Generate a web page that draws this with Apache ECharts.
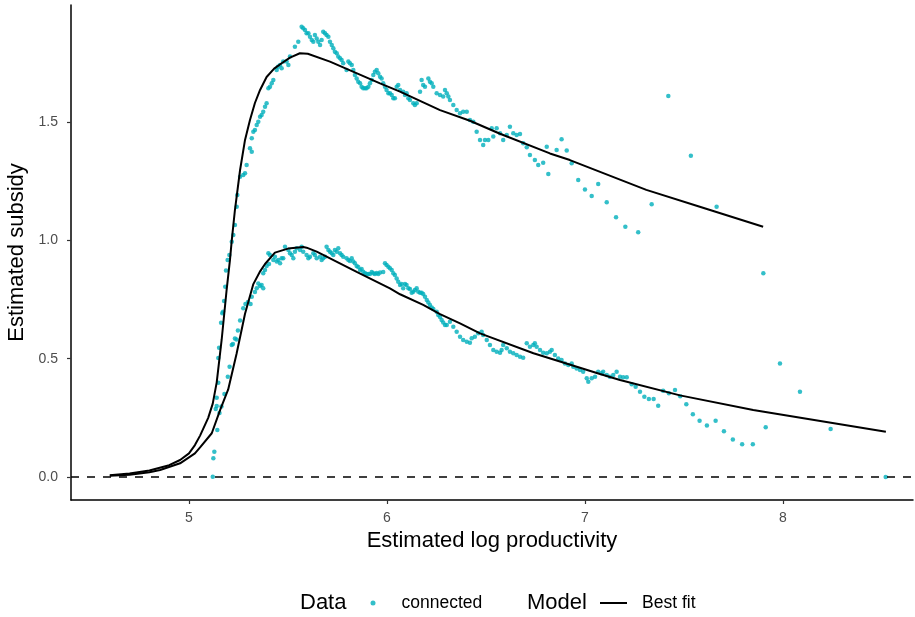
<!DOCTYPE html>
<html><head><meta charset="utf-8">
<script src="https://cdn.jsdelivr.net/npm/echarts@6/dist/echarts.min.js"></script>
<style>html,body{margin:0;padding:0;background:#fff}#c{width:915px;height:617px}</style>
</head><body><div id="c"></div>
<script>
const xTicks = [5, 6, 7, 8];
const yTicks = [0, 0.5, 1, 1.5];
const seriesNames = ['connected', 'Best fit'];

const connectedHigh = [[5.135,0.287],[5.140,0.300],[5.140,0.335],[5.148,0.398],[5.148,0.503],[5.152,0.546],[5.162,0.652],[5.168,0.692],[5.172,0.698],[5.177,0.744],[5.183,0.804],[5.187,0.872],[5.195,0.917],[5.204,0.938],[5.216,0.994],[5.224,1.022],[5.232,1.065],[5.241,1.142],[5.244,1.191],[5.258,1.269],[5.274,1.276],[5.283,1.283],[5.291,1.318],[5.308,1.389],[5.317,1.374],[5.317,1.431],[5.325,1.459],[5.333,1.466],[5.342,1.487],[5.350,1.501],[5.359,1.522],[5.367,1.529],[5.375,1.543],[5.384,1.564],[5.392,1.579],[5.401,1.642],[5.409,1.649],[5.418,1.663],[5.426,1.677],[5.443,1.719],[5.449,1.733],[5.460,1.741],[5.468,1.727],[5.476,1.755],[5.493,1.755],[5.502,1.741],[5.510,1.776],[5.535,1.818],[5.552,1.839],[5.569,1.902],[5.577,1.896],[5.586,1.888],[5.594,1.875],[5.603,1.875],[5.611,1.860],[5.620,1.846],[5.628,1.839],[5.636,1.867],[5.645,1.853],[5.653,1.839],[5.662,1.825],[5.670,1.846],[5.678,1.881],[5.687,1.875],[5.695,1.867],[5.704,1.860],[5.712,1.839],[5.721,1.825],[5.729,1.811],[5.737,1.797],[5.746,1.790],[5.754,1.776],[5.763,1.769],[5.771,1.762],[5.779,1.748],[5.796,1.719],[5.805,1.755],[5.813,1.748],[5.822,1.741],[5.830,1.719],[5.838,1.698],[5.847,1.684],[5.855,1.670],[5.864,1.663],[5.872,1.649],[5.880,1.642],[5.889,1.642],[5.897,1.642],[5.906,1.649],[5.914,1.663],[5.923,1.677],[5.931,1.698],[5.939,1.712],[5.948,1.719],[5.956,1.706],[5.965,1.691],[5.973,1.684],[5.981,1.663],[5.990,1.649],[5.998,1.635],[6.007,1.621],[6.015,1.621],[6.024,1.614],[6.032,1.600],[6.040,1.600],[6.049,1.649],[6.057,1.656],[6.066,1.635],[6.082,1.628],[6.091,1.614],[6.099,1.621],[6.108,1.600],[6.116,1.593],[6.133,1.579],[6.141,1.572],[6.150,1.579],[6.167,1.628],[6.175,1.677],[6.183,1.656],[6.192,1.649],[6.209,1.684],[6.217,1.670],[6.226,1.663],[6.234,1.649],[6.251,1.621],[6.268,1.614],[6.284,1.607],[6.293,1.635],[6.302,1.621],[6.310,1.607],[6.318,1.593],[6.335,1.572],[6.352,1.550],[6.369,1.537],[6.385,1.543],[6.403,1.543],[6.419,1.508],[6.436,1.501],[6.453,1.459],[6.470,1.424],[6.486,1.403],[6.495,1.424],[6.512,1.424],[6.529,1.473],[6.537,1.438],[6.554,1.473],[6.571,1.452],[6.587,1.424],[6.605,1.445],[6.621,1.480],[6.638,1.452],[6.655,1.445],[6.672,1.449],[6.688,1.410],[6.706,1.393],[6.722,1.360],[6.747,1.339],[6.764,1.318],[6.789,1.328],[6.807,1.395],[6.815,1.280],[6.857,1.381],[6.882,1.427],[6.908,1.379],[6.933,1.325],[6.966,1.255],[7.000,1.215],[7.034,1.187],[7.067,1.238],[7.110,1.161],[7.157,1.097],[7.204,1.057],[7.269,1.034],[7.337,1.152],[7.421,1.610],[7.535,1.357],[7.665,1.142],[7.901,0.861]];

const connectedLow = [[5.120,0.001],[5.123,0.079],[5.128,0.107],[5.143,0.199],[5.154,0.270],[5.164,0.298],[5.179,0.351],[5.196,0.424],[5.205,0.466],[5.216,0.558],[5.222,0.562],[5.232,0.585],[5.240,0.581],[5.247,0.619],[5.258,0.661],[5.274,0.713],[5.285,0.731],[5.298,0.739],[5.311,0.731],[5.317,0.762],[5.333,0.782],[5.342,0.798],[5.350,0.818],[5.359,0.807],[5.367,0.811],[5.375,0.798],[5.375,0.861],[5.384,0.875],[5.392,0.891],[5.401,0.945],[5.404,0.900],[5.409,0.938],[5.426,0.917],[5.434,0.931],[5.443,0.910],[5.451,0.917],[5.460,0.903],[5.468,0.924],[5.476,0.924],[5.485,0.973],[5.502,0.959],[5.510,0.945],[5.519,0.938],[5.527,0.924],[5.535,0.952],[5.544,0.966],[5.561,0.959],[5.569,0.973],[5.577,0.952],[5.594,0.938],[5.603,0.924],[5.611,0.931],[5.628,0.945],[5.636,0.938],[5.645,0.924],[5.662,0.931],[5.670,0.917],[5.678,0.924],[5.687,0.931],[5.695,0.973],[5.704,0.959],[5.712,0.952],[5.721,0.945],[5.729,0.938],[5.737,0.959],[5.746,0.952],[5.754,0.966],[5.763,0.945],[5.771,0.938],[5.779,0.931],[5.796,0.924],[5.805,0.917],[5.813,0.913],[5.822,0.924],[5.830,0.910],[5.838,0.903],[5.847,0.891],[5.855,0.887],[5.864,0.875],[5.872,0.879],[5.880,0.867],[5.889,0.861],[5.897,0.858],[5.906,0.858],[5.914,0.858],[5.923,0.866],[5.931,0.861],[5.939,0.858],[5.948,0.862],[5.956,0.858],[5.965,0.864],[5.981,0.866],[5.990,0.903],[5.998,0.896],[6.007,0.888],[6.015,0.882],[6.024,0.875],[6.032,0.861],[6.040,0.853],[6.049,0.839],[6.057,0.825],[6.066,0.811],[6.074,0.815],[6.082,0.798],[6.091,0.815],[6.099,0.811],[6.108,0.797],[6.116,0.794],[6.125,0.779],[6.133,0.783],[6.141,0.790],[6.150,0.797],[6.158,0.783],[6.167,0.779],[6.175,0.779],[6.183,0.773],[6.192,0.762],[6.201,0.748],[6.209,0.737],[6.217,0.727],[6.226,0.716],[6.234,0.710],[6.251,0.698],[6.259,0.684],[6.268,0.676],[6.276,0.663],[6.284,0.653],[6.293,0.642],[6.302,0.642],[6.318,0.656],[6.335,0.635],[6.352,0.614],[6.369,0.593],[6.385,0.579],[6.403,0.572],[6.419,0.567],[6.428,0.586],[6.444,0.593],[6.461,0.607],[6.478,0.614],[6.486,0.600],[6.504,0.579],[6.520,0.558],[6.537,0.537],[6.554,0.529],[6.571,0.525],[6.579,0.537],[6.587,0.558],[6.605,0.544],[6.621,0.529],[6.638,0.523],[6.655,0.515],[6.672,0.508],[6.688,0.504],[6.706,0.565],[6.722,0.550],[6.739,0.558],[6.747,0.565],[6.756,0.550],[6.773,0.537],[6.789,0.525],[6.807,0.523],[6.823,0.529],[6.832,0.537],[6.848,0.515],[6.865,0.501],[6.882,0.494],[6.899,0.480],[6.916,0.473],[6.933,0.480],[6.941,0.466],[6.958,0.459],[6.975,0.452],[6.991,0.445],[7.009,0.417],[7.017,0.403],[7.034,0.417],[7.051,0.424],[7.067,0.445],[7.084,0.438],[7.092,0.445],[7.110,0.431],[7.126,0.424],[7.143,0.431],[7.160,0.445],[7.177,0.424],[7.193,0.422],[7.211,0.422],[7.236,0.392],[7.256,0.381],[7.278,0.360],[7.300,0.339],[7.323,0.330],[7.347,0.330],[7.370,0.301],[7.395,0.365],[7.424,0.354],[7.455,0.368],[7.481,0.341],[7.512,0.307],[7.545,0.265],[7.579,0.238],[7.616,0.218],[7.660,0.238],[7.702,0.193],[7.747,0.159],[7.794,0.138],[7.848,0.138],[7.913,0.210],[7.985,0.480],[8.086,0.360],[8.241,0.203],[8.519,0.000]];

const fitHigh = [[4.60,0.008],[4.70,0.015],[4.80,0.028],[4.90,0.050],[4.955,0.072],[5.00,0.100],[5.03,0.135],[5.056,0.175],[5.097,0.250],[5.12,0.310],[5.14,0.400],[5.165,0.580],[5.19,0.790],[5.207,0.917],[5.216,1.000],[5.232,1.128],[5.258,1.297],[5.283,1.424],[5.308,1.508],[5.333,1.580],[5.359,1.635],[5.392,1.690],[5.43,1.725],[5.468,1.748],[5.51,1.772],[5.56,1.790],[5.60,1.788],[5.712,1.755],[5.965,1.663],[6.066,1.628],[6.268,1.550],[6.419,1.505],[6.571,1.450],[6.823,1.367],[6.924,1.339],[7.31,1.213],[7.58,1.142],[7.90,1.057]];

const fitLow = [[4.60,0.005],[4.70,0.010],[4.80,0.020],[4.854,0.030],[4.955,0.058],[5.03,0.100],[5.056,0.125],[5.115,0.185],[5.157,0.283],[5.198,0.370],[5.24,0.520],[5.283,0.690],[5.325,0.815],[5.36,0.870],[5.384,0.900],[5.434,0.948],[5.50,0.965],[5.577,0.972],[5.594,0.969],[5.645,0.952],[5.66,0.946],[5.847,0.867],[6.015,0.797],[6.066,0.772],[6.183,0.727],[6.268,0.688],[6.369,0.649],[6.47,0.607],[6.74,0.523],[7.076,0.435],[7.177,0.410],[7.48,0.345],[7.85,0.283],[8.52,0.191]];

const FONT = '"Liberation Sans", Arial, sans-serif';
const teal = '#00AFBB';

const chart = echarts.init(document.getElementById('c'), null, {renderer: 'canvas'});
const option = {
  animation: false,
  backgroundColor: '#fff',
  grid: {left: 71, right: 2, top: 5, bottom: 117, containLabel: false, outerBoundsMode: 'none'},
  xAxis: {
    type: 'value', min: 4.404, max: 8.657,
    name: 'Estimated log productivity', nameLocation: 'middle', nameGap: 30,
    nameTextStyle: {fontFamily: FONT, fontSize: 22, color: '#000'},
    axisLine: {show: true, onZero: false, lineStyle: {color: '#000', width: 1.5}},
    axisTick: {show: true, customValues: xTicks, length: 4, lineStyle: {color: '#333', width: 1.2}},
    axisLabel: {customValues: xTicks, margin: 11, fontFamily: FONT, fontSize: 14, color: '#4d4d4d'},
    splitLine: {show: false}
  },
  yAxis: {
    type: 'value', min: -0.097, max: 1.994,
    name: 'Estimated subsidy', nameLocation: 'middle', nameGap: 39, nameRotate: 90,
    nameTextStyle: {fontFamily: FONT, fontSize: 22, color: '#000'},
    axisLine: {show: true, onZero: false, lineStyle: {color: '#000', width: 1.5}},
    axisTick: {show: true, customValues: yTicks, length: 4, lineStyle: {color: '#333', width: 1.2}},
    axisLabel: {customValues: yTicks, margin: 13, fontFamily: FONT, fontSize: 14, color: '#4d4d4d',
      formatter: v => v.toFixed(1)},
    splitLine: {show: false}
  },
  legend: [
    {data: [seriesNames[0]], left: 370.5, top: 594, padding: 0, itemWidth: 5, itemHeight: 5, icon: 'circle',
     itemStyle: {color: teal},
     textStyle: {fontFamily: FONT, fontSize: 17.5, color: '#000', padding: [0, 0, 0, 21]}},
    {data: [seriesNames[1]], left: 600, top: 594, padding: 0, itemWidth: 27, itemHeight: 2, icon: 'rect',
     itemStyle: {color: '#000'},
     textStyle: {fontFamily: FONT, fontSize: 17.5, color: '#000', padding: [0, 0, 0, 10]}}
  ],
  graphic: [
    {type: 'text', left: 300, top: 592, style: {text: 'Data', font: '22px "Liberation Sans", Arial, sans-serif', fill: '#000'}},
    {type: 'text', left: 527, top: 592, style: {text: 'Model', font: '22px "Liberation Sans", Arial, sans-serif', fill: '#000'}}
  ],
  series: [
    {name: seriesNames[0], type: 'scatter', data: connectedHigh, symbolSize: 4.5,
     itemStyle: {color: teal}, z: 2},
    {name: seriesNames[0], type: 'scatter', data: connectedLow, symbolSize: 4.5,
     itemStyle: {color: teal}, z: 2},
    {name: seriesNames[1], type: 'line', data: fitHigh, showSymbol: false, symbol: 'none', smooth: false,
     lineStyle: {color: '#000', width: 2}, itemStyle: {color: '#000'}, z: 3,
     markLine: {silent: true, symbol: 'none', label: {show: false},
       lineStyle: {color: '#000', width: 1.5, type: [8, 8]}, data: [{yAxis: 0}]}},
    {name: seriesNames[1], type: 'line', data: fitLow, showSymbol: false, symbol: 'none', smooth: false,
     lineStyle: {color: '#000', width: 2}, itemStyle: {color: '#000'}, z: 3}
  ]
};
chart.setOption(option);
</script>
</body></html>
